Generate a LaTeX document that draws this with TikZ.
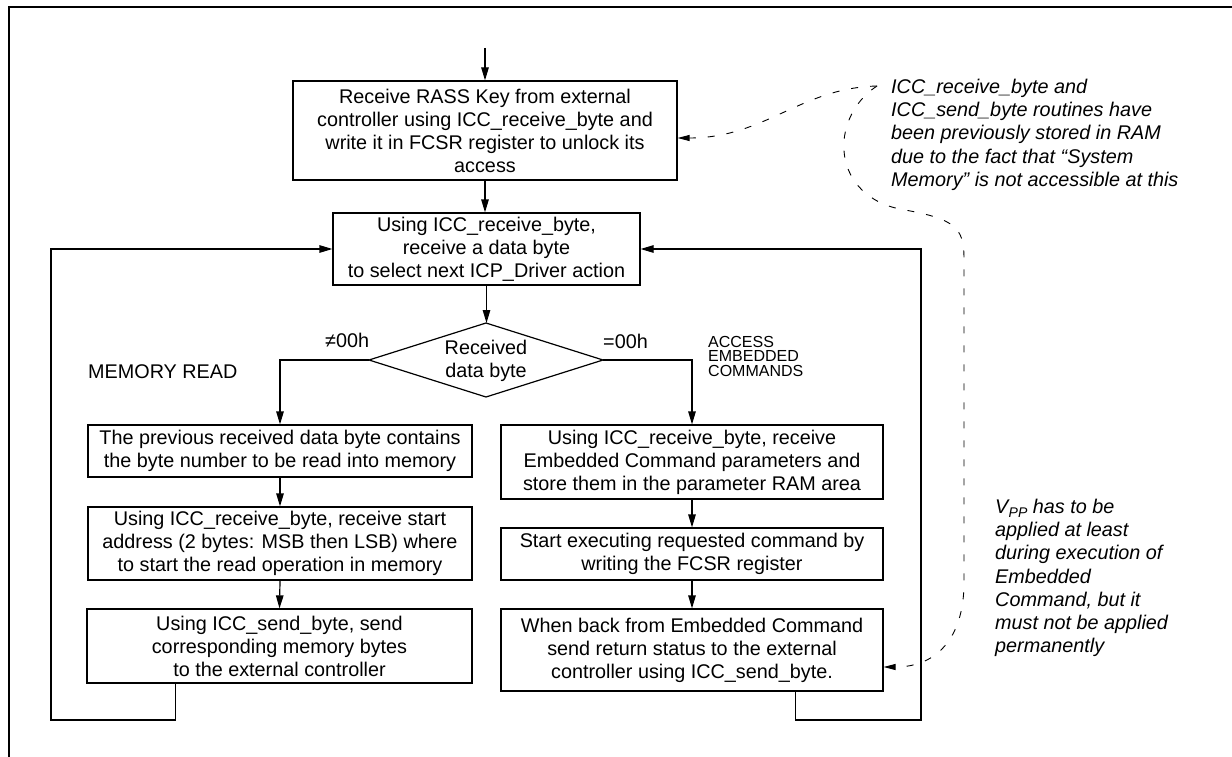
\documentclass[tikz,border=0pt]{standalone}
\usepackage{fontspec}
\setmainfont{Liberation Sans}
\usetikzlibrary{arrows.meta}
\newcommand\boxfont{\fontsize{19.8}{23}\selectfont}
\newcommand\notefont{\itshape\fontsize{19.8}{23.2}\selectfont}
\newcommand\accfont{\fontsize{16}{14.5}\selectfont}
\tikzset{
  box/.style={draw, line width=1.2pt, align=center, inner sep=0pt, font=\boxfont},
  flow/.style={line width=1.2pt, -{Triangle[length=13pt,width=7.5pt]}},
  plainline/.style={line width=1.2pt},
  dashline/.style={line width=0.9pt, dash pattern=on 7pt off 12pt},
  note/.style={align=left, inner sep=0pt, font=\notefont, anchor=north west},
  lbl/.style={inner sep=0pt, font=\boxfont, anchor=base west},
}
\begin{document}
\begin{tikzpicture}[x=1pt,y=-1pt]
\useasboundingbox (0,0) rectangle (1232,757);
% frame
\draw[line width=2.5pt] (9,757) -- (9,7) -- (1232,7);

% boxes
\node[box, minimum width=384pt, minimum height=99pt] (rass) at (485,130.5)
  {Receive RASS Key from external\\controller using ICC\_receive\_byte and\\write it in FCSR register to unlock its\\access};
\node[box, minimum width=307pt, minimum height=72pt] (recv) at (486.5,249)
  {Using ICC\_receive\_byte,\\receive a data byte\\to select next ICP\_Driver action};

% decision
\coordinate (dT) at (486,323);
\coordinate (dB) at (486,397);
\coordinate (dL) at (369,360);
\coordinate (dR) at (603,360);
\draw[plainline] (dT) -- (dR) -- (dB) -- (dL) -- cycle;
\node[align=center, inner sep=0pt, font=\boxfont] (dtxt) at (486,361) {Received\\data byte};

% left column
\node[box, minimum width=384pt, minimum height=52pt] (m1) at (280,451)
  {The previous received data byte contains\\the byte number to be read into memory};
\node[box, minimum width=384pt, minimum height=73pt] (m2) at (280,543.5)
  {Using ICC\_receive\_byte, receive start\\address (2 bytes: MSB then LSB) where\\to start the read operation in memory};
\node[box, minimum width=385pt, minimum height=74pt] (m3) at (279.5,646)
  {Using ICC\_send\_byte, send\\corresponding memory bytes\\to the external controller};

% right column
\node[box, minimum width=382pt, minimum height=74pt] (e1) at (692,462)
  {Using ICC\_receive\_byte, receive\\Embedded Command parameters and\\store them in the parameter RAM area};
\node[box, minimum width=382pt, minimum height=52pt] (e2) at (692,554)
  {Start executing requested command by\\writing the FCSR register};
\node[box, minimum width=382pt, minimum height=82pt] (e3) at (692,650)
  {When back from Embedded Command\\send return status to the external\\controller using ICC\_send\_byte.};

% labels
\node[lbl] (ne) at (325,347) {≠00h};
\node[lbl] (eq) at (603,348) {=00h};
\node[lbl] (memread) at (88,378) {MEMORY READ};
\node[align=left, inner sep=0pt, font=\accfont, anchor=north west] (acc) at (708,336) {ACCESS\\EMBEDDED\\COMMANDS};

% notes
\node[note] (note1) at (891,79) {ICC\_receive\_byte and\\ICC\_send\_byte routines have\\been previously stored in RAM\\due to the fact that “System\\Memory” is not accessible at this};
\node[note] (note2) at (995,499) {V\kern0.3pt\raisebox{-4pt}{\fontsize{14}{14}\selectfont PP} has to be\\applied at least\\during execution of\\Embedded\\Command, but it\\must not be applied\\permanently};

% connectors
\coordinate (start) at (485,48);
\draw[flow] (start) -- (rass.north);
\draw[flow] (rass.south) -- (rass.south |- recv.north);
\draw[flow] (recv.south) -- (recv.south |- dT);
\draw[flow] (dL) -| (m1.north);
\draw[flow] (dR) -| (e1.north);
\draw[flow] (m1.south) -- (m2.north);
\draw[flow] (m2.south) -- (m3.north);
\draw[flow] (e1.south) -- (e2.north);
\draw[flow] (e2.south) -- (e3.north);

\coordinate (lb) at (51,720);
\coordinate (rb) at (921,720);
\draw[flow] ([xshift=89pt]m3.south west) |- (lb) |- (recv.west);
\draw[flow] ([xshift=295pt]e3.south west) |- (rb) |- (recv.east);

% dashed notes connectors
\coordinate (n1) at (877,86);
\draw[dashline, -{Triangle[length=12pt,width=6pt]}] (n1) .. controls (800,88) and (765,138) .. ([yshift=-7.5pt]rass.east);
\draw[dashline, -{Triangle[length=12pt,width=6pt]}] (n1) .. controls (828,118) and (830,198) .. (905,210)
  .. controls (955,219) and (964,228) .. (964,258) -- (964,585)
  .. controls (963,640) and (935,667) .. ([yshift=-17pt]e3.east);
\end{tikzpicture}
\end{document}
